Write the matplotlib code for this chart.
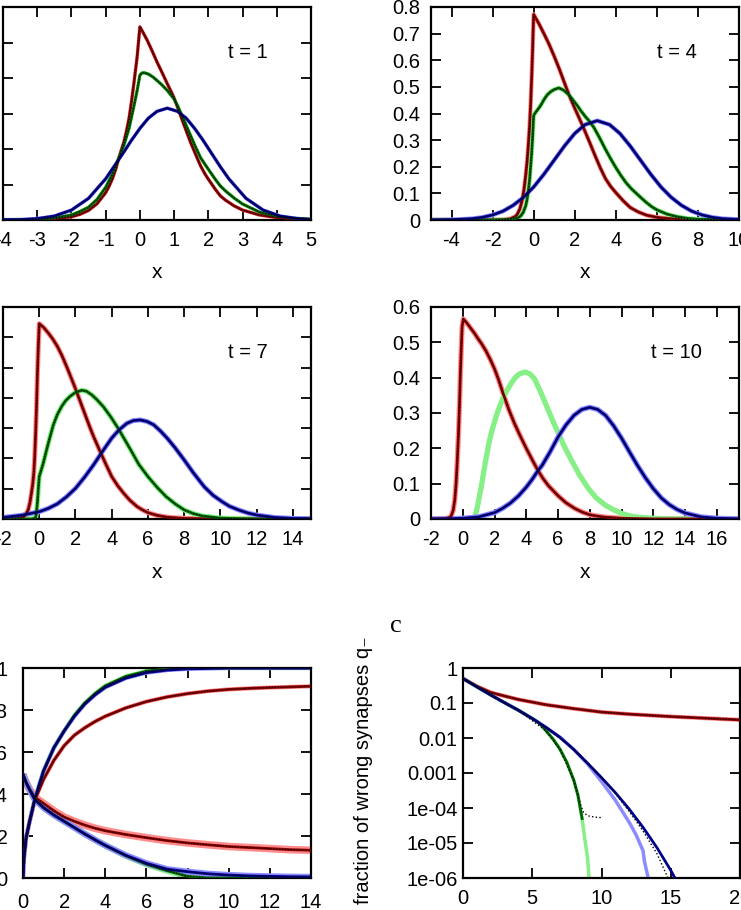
import matplotlib
matplotlib.use("Agg")
import matplotlib.pyplot as plt
from matplotlib.ticker import FixedLocator, FixedFormatter

plt.rcParams['font.family'] = ['Liberation Sans', 'DejaVu Sans']
plt.rcParams['font.size'] = 14.5
plt.rcParams['axes.unicode_minus'] = False
plt.rcParams['axes.linewidth'] = 1.6

# ---- densities, t = 1 ----
T1_RED_X = [-4, -3, -2.5, -2, -1.75, -1.5, -1.25, -1, -0.9, -0.8, -0.7, -0.61, -0.54, -0.47, -0.4, -0.32, -0.25, -0.17, -0.08, 0,
            0.1, 0.21, 0.35, 0.5, 0.65, 0.8, 0.99, 1.1, 1.3, 1.48, 1.65, 1.77, 1.9, 2.0, 2.2, 2.35, 2.5, 2.75, 3.0, 3.5, 4.0, 4.5, 5.0]
T1_RED_Y = [0.0, 0.001, 0.004, 0.009, 0.016, 0.027, 0.046, 0.077, 0.095, 0.117, 0.145, 0.176, 0.198, 0.219, 0.247, 0.285, 0.33, 0.389, 0.46, 0.544,
            0.527, 0.507, 0.478, 0.445, 0.415, 0.384, 0.346, 0.318, 0.265, 0.219, 0.18, 0.153, 0.13, 0.115, 0.087, 0.068, 0.056, 0.04, 0.028, 0.014, 0.007, 0.004, 0.002]
T1_GRN_X = [-4, -3, -2.5, -2, -1.75, -1.5, -1.25, -1, -0.8, -0.61, -0.47, -0.32, -0.17, -0.08, 0, 0.06, 0.12, 0.25, 0.38, 0.5, 0.65, 0.8,
            0.99, 1.1, 1.23, 1.35, 1.48, 1.62, 1.77, 1.9, 2.0, 2.2, 2.35, 2.5, 2.75, 3.0, 3.5, 4.0, 4.5, 5.0]
T1_GRN_Y = [0.0, 0.002, 0.006, 0.014, 0.024, 0.036, 0.058, 0.092, 0.13, 0.176, 0.21, 0.257, 0.323, 0.365, 0.408, 0.414, 0.415, 0.411, 0.403, 0.393, 0.38, 0.365,
            0.342, 0.322, 0.294, 0.267, 0.238, 0.207, 0.176, 0.157, 0.143, 0.115, 0.096, 0.082, 0.062, 0.045, 0.022, 0.011, 0.005, 0.002]
T1_BLU_X = [-4, -3.5, -3, -2.5, -2, -1.5, -1, -0.5, -0.25, 0, 0.25, 0.5, 0.8, 1.1, 1.35, 1.6, 1.85, 2.1, 2.35, 2.6, 3.1, 3.6, 4.1, 4.6, 5.0]
T1_BLU_Y = [0.001, 0.001, 0.004, 0.011, 0.028, 0.061, 0.116, 0.187, 0.224, 0.258, 0.287, 0.306, 0.315, 0.306, 0.287, 0.258, 0.224, 0.187, 0.15, 0.116, 0.061, 0.028, 0.011, 0.004, 0.001]

# ---- densities, t = 4 ----
T4_RED_X = [-5, -2, -1.5, -1.12, -0.9, -0.8, -0.67, -0.55, -0.47, -0.39, -0.32, -0.26, -0.2, -0.15, -0.1, -0.06, -0.03, 0,
            0.25, 0.5, 0.75, 1.0, 1.25, 1.5, 1.72, 2.0, 2.25, 2.45, 2.75, 3.0, 3.25, 3.5, 3.75, 4.0, 4.35, 4.7, 5.1, 5.5, 6.0, 6.5, 7.0, 8.0, 10.0]
T4_RED_Y = [0.0, 0.0, 0.001, 0.005, 0.013, 0.021, 0.042, 0.078, 0.115, 0.166, 0.22, 0.28, 0.35, 0.43, 0.53, 0.62, 0.70, 0.772,
            0.738, 0.70, 0.66, 0.615, 0.567, 0.515, 0.47, 0.42, 0.377, 0.342, 0.287, 0.24, 0.195, 0.155, 0.126, 0.103, 0.073, 0.047, 0.03, 0.018, 0.01, 0.006, 0.003, 0.001, 0.0]
T4_GRN_X = [-5, -2, -1.3, -0.96, -0.75, -0.63, -0.5, -0.39, -0.32, -0.26, -0.2, -0.15, -0.1, -0.06, -0.03, 0,
            0.1, 0.2, 0.34, 0.5, 0.66, 0.83, 1.0, 1.23, 1.45, 1.72, 1.9, 2.12, 2.3, 2.5, 2.7, 2.93, 3.2, 3.5, 3.75, 4.0,
            4.25, 4.5, 4.75, 5.0, 5.25, 5.5, 5.75, 6.0, 6.5, 7.0, 7.5, 8.0, 9.0, 10.0]
T4_GRN_Y = [0.0, 0.0, 0.001, 0.004, 0.009, 0.015, 0.03, 0.053, 0.078, 0.11, 0.15, 0.2, 0.25, 0.30, 0.35, 0.393,
            0.405, 0.415, 0.43, 0.452, 0.47, 0.482, 0.49, 0.496, 0.488, 0.47, 0.452, 0.43, 0.41, 0.39, 0.372, 0.348, 0.31, 0.265, 0.23, 0.197,
            0.167, 0.14, 0.118, 0.1, 0.082, 0.065, 0.05, 0.038, 0.022, 0.012, 0.006, 0.003, 0.001, 0.0]
T4_BLU_X = [-5, -4, -3, -2.5, -2, -1.5, -1, -0.5, 0, 0.5, 1.0, 1.5, 2.0, 2.5, 3.1, 3.7, 4.2, 4.7, 5.2, 5.7, 6.2, 6.7, 7.2, 7.7, 8.2, 8.7, 9.2, 10.0]
T4_BLU_Y = [0.0, 0.001, 0.005, 0.01, 0.019, 0.033, 0.055, 0.085, 0.124, 0.172, 0.225, 0.278, 0.325, 0.358, 0.373, 0.358, 0.325, 0.278, 0.225, 0.172, 0.124, 0.085, 0.055, 0.033, 0.019, 0.01, 0.005, 0.002]

# ---- densities, t = 7 ----
T7_RED_X = [-2, -1.2, -0.89, -0.75, -0.61, -0.52, -0.43, -0.36, -0.3, -0.25, -0.2, -0.15, -0.1, -0.05, 0,
            0.25, 0.5, 0.75, 1.0, 1.25, 1.5, 1.75, 2.0, 2.25, 2.5, 2.75, 3.0, 3.36, 3.7, 4.0, 4.33, 4.66, 5.0, 5.4, 5.7, 6.0, 6.5, 7.06, 8.0, 9.0, 10.0, 15.0]
T7_RED_Y = [0.0, 0.001, 0.006, 0.014, 0.03, 0.052, 0.085, 0.115, 0.151, 0.205, 0.28, 0.37, 0.48, 0.57, 0.645,
            0.632, 0.614, 0.594, 0.57, 0.54, 0.505, 0.468, 0.43, 0.39, 0.35, 0.31, 0.272, 0.223, 0.178, 0.14, 0.11, 0.085, 0.062, 0.041, 0.03, 0.021, 0.012, 0.006, 0.002, 0.001, 0.0, 0.0]
T7_GRN_X = [-2, -0.5, -0.3, -0.24, -0.18, -0.15, -0.1, -0.05, 0, 0.1, 0.22, 0.35, 0.5, 0.65, 0.78, 1.0, 1.24, 1.45, 1.7, 2.0, 2.35, 2.6, 2.9,
            3.2, 3.55, 3.95, 4.35, 4.7, 5.03, 5.5, 6.0, 6.5, 7.0, 7.5, 8.0, 8.5, 9.0, 10.0, 11.0, 12.0, 15.0]
T7_GRN_Y = [0.0, 0.0, 0.001, 0.002, 0.01, 0.024, 0.055, 0.1, 0.14, 0.16, 0.184, 0.215, 0.25, 0.283, 0.311, 0.345, 0.372, 0.39, 0.405, 0.418, 0.425, 0.422, 0.41,
            0.393, 0.37, 0.337, 0.30, 0.264, 0.23, 0.18, 0.14, 0.105, 0.074, 0.05, 0.03, 0.018, 0.01, 0.003, 0.001, 0.0, 0.0]
T7_BLU_X = [-2, -1, 0, 0.5, 1, 1.5, 2, 2.5, 3, 3.5, 4, 4.4, 4.84, 5.2, 5.58, 5.95, 6.32, 6.7, 7.06, 7.5, 8.0, 8.5, 9.1, 9.6, 10.1, 10.5, 11, 11.5, 12, 13, 14, 15]
T7_BLU_Y = [0.005, 0.012, 0.024, 0.035, 0.05, 0.073, 0.101, 0.138, 0.179, 0.224, 0.267, 0.294, 0.316, 0.325, 0.327, 0.322, 0.311, 0.29, 0.267, 0.235, 0.195, 0.153, 0.107, 0.078, 0.057, 0.042, 0.03, 0.02, 0.013, 0.005, 0.002, 0.001]

# ---- densities, t = 10 ----
T10_RED_X = [-2, -1.16, -0.9, -0.74, -0.6, -0.5, -0.42, -0.35, -0.27, -0.2, -0.15, -0.1, -0.04, 0.04,
             0.25, 0.5, 0.75, 0.95, 1.2, 1.47, 1.75, 2.0, 2.25, 2.53, 2.9, 3.26, 3.6, 4.0, 4.37, 4.74, 5.05, 5.4, 5.7, 6.0, 6.5, 7.05, 7.5, 8.0, 8.5, 9.0, 10.0, 11.0, 12.0, 17.4]
T10_RED_Y = [0.0, 0.001, 0.003, 0.007, 0.025, 0.055, 0.1, 0.16, 0.24, 0.33, 0.41, 0.475, 0.545, 0.566,
             0.555, 0.54, 0.525, 0.511, 0.495, 0.475, 0.45, 0.425, 0.395, 0.357, 0.31, 0.27, 0.237, 0.2, 0.168, 0.137, 0.115, 0.094, 0.08, 0.066, 0.046, 0.03, 0.02, 0.012, 0.008, 0.005, 0.002, 0.001, 0.0, 0.0]
T10_GRN_X = [0.6, 0.74, 0.85, 0.95, 1.05, 1.16, 1.28, 1.4, 1.55, 1.68, 1.85, 2.0, 2.21, 2.53, 2.8, 3.05, 3.3, 3.58, 3.95, 4.25, 4.53, 4.9, 5.26, 5.6,
             6.0, 6.4, 6.84, 7.35, 7.9, 8.4, 8.95, 9.5, 10.0, 10.5, 11.05, 12.0, 13.0, 17.4]
T10_GRN_Y = [0.0, 0.003, 0.02, 0.04, 0.065, 0.09, 0.122, 0.155, 0.19, 0.222, 0.252, 0.275, 0.305, 0.342, 0.365, 0.384, 0.4, 0.411, 0.416, 0.41, 0.396, 0.36, 0.322, 0.285,
             0.245, 0.205, 0.167, 0.125, 0.087, 0.06, 0.04, 0.026, 0.016, 0.009, 0.005, 0.002, 0.0, 0.0]
T10_BLU_X = [-2, -1, 0, 1, 2, 2.5, 3, 3.5, 4, 4.37, 4.74, 5.0, 5.5, 6.0, 6.5, 7.0, 7.5, 8.0, 8.5, 9.0, 9.5, 10.0, 10.5, 11.0, 11.5, 12.0, 12.5, 13.0, 13.5, 14.0, 15.0, 16.0, 17.4]
T10_BLU_Y = [0.0, 0.0005, 0.002, 0.006, 0.018, 0.03, 0.045, 0.065, 0.09, 0.112, 0.137, 0.152, 0.19, 0.232, 0.266, 0.293, 0.31, 0.316, 0.31, 0.293, 0.264, 0.229, 0.19, 0.152, 0.117, 0.086, 0.06, 0.041, 0.027, 0.017, 0.006, 0.002, 0.0]

# ---- fractions of correct / wrong synapses vs time ----
E_T = [0, 0.05, 0.15, 0.3, 0.57, 1, 1.5, 2, 2.5, 3, 3.5, 4, 5, 6, 7, 8, 9, 10, 11, 12, 13, 14]
E_BLU_UP = [0.0, 0.1, 0.19, 0.26, 0.374, 0.51, 0.62, 0.70, 0.77, 0.828, 0.872, 0.908, 0.952, 0.978, 0.99, 0.996, 0.998, 1.0, 1.0, 1.0, 1.0, 1.0]
E_GRN_UP = [0.0, 0.1, 0.19, 0.26, 0.374, 0.51, 0.62, 0.70, 0.775, 0.833, 0.878, 0.915, 0.96, 0.985, 0.996, 1.0, 1.0, 1.0, 1.0, 1.0, 1.0, 1.0]
E_RED_UP = [0.0, 0.1, 0.19, 0.26, 0.37, 0.47, 0.56, 0.63, 0.68, 0.715, 0.745, 0.77, 0.81, 0.84, 0.862, 0.878, 0.89, 0.898, 0.903, 0.907, 0.91, 0.913]
E_BLU_DN = [0.494, 0.48, 0.455, 0.425, 0.374, 0.335, 0.30, 0.27, 0.24, 0.21, 0.182, 0.155, 0.108, 0.07, 0.042, 0.03, 0.02, 0.014, 0.01, 0.008, 0.006, 0.005]
E_GRN_DN = [0.494, 0.48, 0.455, 0.425, 0.374, 0.335, 0.30, 0.27, 0.24, 0.21, 0.182, 0.155, 0.106, 0.066, 0.035, 0.008, 0.0, 0.0, 0.0, 0.0, 0.0, 0.0]
E_RED_DN = [0.494, 0.48, 0.455, 0.425, 0.385, 0.355, 0.32, 0.29, 0.27, 0.252, 0.237, 0.225, 0.207, 0.192, 0.178, 0.167, 0.158, 0.15, 0.145, 0.14, 0.135, 0.132]

# ---- fraction of wrong synapses (log scale) ----
F_RED_X = [0, 1, 2, 3, 4, 5, 6, 8, 10, 12, 15, 20]
F_RED_Y = [0.5, 0.30, 0.20, 0.158, 0.126, 0.106, 0.089, 0.069, 0.055, 0.048, 0.041, 0.033]
F_BLU_X = [0, 1, 2, 3, 4, 5, 6, 7, 8, 9, 10, 11, 12, 13, 14, 15, 15.3]
F_BLU_Y = [0.5, 0.29, 0.17, 0.102, 0.062, 0.036, 0.020, 0.0105, 0.0047, 0.0019, 7.4e-4, 2.75e-4, 9.3e-5, 2.8e-5, 7.4e-6, 1.66e-6, 1.0e-6]
F_BLU_SIM_X = [0, 1, 2, 3, 4, 5, 6, 7, 8, 9, 10, 11, 12, 12.5, 13, 13.1, 13.4]
F_BLU_SIM_Y = [0.5, 0.29, 0.17, 0.102, 0.062, 0.036, 0.020, 0.0105, 0.0047, 0.0018, 5.7e-4, 1.66e-4, 3.9e-5, 1.7e-5, 6e-6, 3e-6, 9e-7]
F_BLU_DOT_X = [0, 2, 4, 6, 8, 10, 11, 12, 13, 14, 14.8, 15.0]
F_BLU_DOT_Y = [0.5, 0.17, 0.062, 0.020, 0.0047, 7.2e-4, 2.6e-4, 8e-5, 2.2e-5, 5e-6, 1e-6, 7e-7]
F_GRN_X = [0, 1, 2, 3, 4, 5, 5.5, 6, 6.5, 7, 7.5, 8, 8.3, 8.6]
F_GRN_Y = [0.5, 0.29, 0.17, 0.102, 0.062, 0.036, 0.027, 0.016, 0.0093, 0.0048, 0.002, 6.2e-4, 2.3e-4, 5e-5]
F_GRN_SIM_X = [0, 1, 2, 3, 4, 5, 5.5, 6, 6.5, 7, 7.5, 8, 8.3, 8.6, 8.8, 9.0, 9.12]
F_GRN_SIM_Y = [0.5, 0.29, 0.17, 0.102, 0.062, 0.036, 0.027, 0.016, 0.0093, 0.0048, 0.002, 6.2e-4, 2.3e-4, 5e-5, 1.26e-5, 3.5e-6, 8e-7]
F_GRN_DOT_X = [0, 2, 4, 6, 7, 8, 8.3, 8.5, 8.7, 9.0, 9.5, 10.0]
F_GRN_DOT_Y = [0.5, 0.17, 0.062, 0.016, 0.0048, 6.2e-4, 2.3e-4, 1.2e-4, 7.5e-5, 6e-5, 5.5e-5, 5.3e-5]

DARK_RED, DARK_GRN, DARK_BLU = '#8b0000', '#006400', '#00008b'
LIGHT_RED, LIGHT_GRN, LIGHT_BLU = '#ff8c8c', '#86f086', '#8c8cff'

W, H = 741, 910
fig = plt.figure(figsize=(W / 100, H / 100), dpi=100)


def axes_px(left, top, right, bottom):
    return fig.add_axes([left / W, 1 - bottom / H, (right - left) / W, (bottom - top) / H])


def style(ax, xpad=8, ypad=8):
    ax.tick_params(direction='in', length=7, width=1.3, top=True, right=True,
                   labelsize=14.5, color='black')
    ax.tick_params(axis='x', pad=xpad)
    ax.tick_params(axis='y', pad=ypad)


def curve(ax, x, y, dark, light, lw_light=3.0, theory=True):
    ax.plot(x, y, color=light, lw=lw_light, solid_capstyle='butt', zorder=2)
    if theory:
        ax.plot(x, y, color=dark, lw=2.0, zorder=3)
        ax.plot(x, y, color='black', lw=0.8, ls=':', zorder=4)


def density_panel(box, xlim, ylim, xticks, yticks, series, label, label_px, xlabel_px, lw_light):
    ax = axes_px(*box)
    for x, y, dark, light, theory in series:
        curve(ax, x, y, dark, light, lw_light=lw_light, theory=theory)
    ax.set_xlim(*xlim)
    ax.set_ylim(*ylim)
    ax.set_xticks(xticks)
    ax.set_xticklabels(['%g' % v for v in xticks])
    ax.set_yticks(yticks)
    ax.set_yticklabels(['%g' % round(v, 1) for v in yticks])
    style(ax)
    fig.text(label_px[0] / W, 1 - label_px[1] / H, label, ha='left', va='center', fontsize=14.5)
    fig.text(xlabel_px[0] / W, 1 - xlabel_px[1] / H, 'x', ha='center', va='center', fontsize=15)
    return ax


yt6 = [i / 10 for i in range(7)]
yt7 = [i / 10 for i in range(8)]
yt8 = [i / 10 for i in range(9)]

density_panel((3, 7, 311, 220), (-4, 5), (0, 0.6), list(range(-4, 6)), yt6,
              [(T1_RED_X, T1_RED_Y, DARK_RED, LIGHT_RED, True),
               (T1_GRN_X, T1_GRN_Y, DARK_GRN, LIGHT_GRN, True),
               (T1_BLU_X, T1_BLU_Y, DARK_BLU, LIGHT_BLU, True)],
              't = 1', (228, 52), (157, 273), 2.6)

density_panel((431, 7, 739, 220), (-5, 10), (0, 0.8), list(range(-4, 11, 2)), yt8,
              [(T4_RED_X, T4_RED_Y, DARK_RED, LIGHT_RED, True),
               (T4_GRN_X, T4_GRN_Y, DARK_GRN, LIGHT_GRN, True),
               (T4_BLU_X, T4_BLU_Y, DARK_BLU, LIGHT_BLU, True)],
              't = 4', (657, 52), (585, 273), 3.2)

density_panel((3, 307, 311, 519), (-2, 15), (0, 0.7), list(range(-2, 15, 2)), yt7,
              [(T7_RED_X, T7_RED_Y, DARK_RED, LIGHT_RED, True),
               (T7_GRN_X, T7_GRN_Y, DARK_GRN, LIGHT_GRN, True),
               (T7_BLU_X, T7_BLU_Y, DARK_BLU, LIGHT_BLU, True)],
              't = 7', (228, 352), (157, 573), 3.6)

density_panel((431, 307, 739, 519), (-2, 17.4), (0, 0.6), list(range(-2, 17, 2)), yt6,
              [(T10_RED_X, T10_RED_Y, DARK_RED, LIGHT_RED, True),
               (T10_GRN_X, T10_GRN_Y, DARK_GRN, LIGHT_GRN, False),
               (T10_BLU_X, T10_BLU_Y, DARK_BLU, LIGHT_BLU, True)],
              't = 10', (651, 352), (585, 573), 3.8)

# bottom left: fractions vs time
axe = axes_px(23, 668, 311, 878)
for y, dark, light, lwl in [(E_GRN_UP, DARK_GRN, LIGHT_GRN, 3.0), (E_RED_UP, DARK_RED, LIGHT_RED, 3.0),
                            (E_BLU_UP, DARK_BLU, LIGHT_BLU, 3.0), (E_RED_DN, DARK_RED, LIGHT_RED, 5.5),
                            (E_GRN_DN, DARK_GRN, LIGHT_GRN, 4.5), (E_BLU_DN, DARK_BLU, LIGHT_BLU, 4.5)]:
    curve(axe, E_T, y, dark, light, lw_light=lwl)
axe.set_xlim(0, 14)
axe.set_ylim(0, 1)
axe.set_xticks(list(range(0, 15, 2)))
axe.set_xticklabels([str(v) for v in range(0, 15, 2)])
axe.set_yticks([0, 0.2, 0.4, 0.6, 0.8, 1.0])
axe.set_yticklabels(['0', '0.2', '0.4', '0.6', '0.8', '1'])
style(axe, xpad=11, ypad=11)

# bottom right: wrong synapses, log scale
axf = axes_px(463, 668, 740, 878)
axf.set_yscale('log')
axf.plot(F_RED_X, F_RED_Y, color=LIGHT_RED, lw=3, zorder=2)
axf.plot(F_GRN_SIM_X, F_GRN_SIM_Y, color=LIGHT_GRN, lw=2.5, zorder=2)
axf.plot(F_BLU_SIM_X, F_BLU_SIM_Y, color=LIGHT_BLU, lw=2.5, zorder=2)
axf.plot(F_RED_X, F_RED_Y, color=DARK_RED, lw=2.0, zorder=3)
axf.plot(F_GRN_X, F_GRN_Y, color=DARK_GRN, lw=2.0, zorder=3)
axf.plot(F_BLU_X, F_BLU_Y, color=DARK_BLU, lw=2.0, zorder=3)
axf.plot(F_RED_X, F_RED_Y, color='black', lw=0.8, ls=':', zorder=4)
axf.plot(F_GRN_DOT_X, F_GRN_DOT_Y, color='black', lw=1.0, ls=':', zorder=4)
axf.plot(F_BLU_DOT_X, F_BLU_DOT_Y, color='black', lw=1.0, ls=':', zorder=4)
axf.set_xlim(0, 20)
axf.set_ylim(1e-6, 1)
axf.set_xticks([0, 5, 10, 15, 20])
axf.set_xticklabels(['0', '5', '10', '15', '20'])
f_ticks = [1, 0.1, 0.01, 0.001, 1e-4, 1e-5, 1e-6]
axf.yaxis.set_major_locator(FixedLocator(f_ticks))
axf.yaxis.set_major_formatter(FixedFormatter(['1', '0.1', '0.01', '0.001', '1e-04', '1e-05', '1e-06']))
axf.yaxis.set_minor_locator(FixedLocator([]))
style(axf, xpad=8, ypad=4)

fig.text(373 / W, 1 - 636 / H, 'fraction of wrong synapses q\u208b', rotation=90,
         ha='right', va='top', fontsize=14.5)
fig.text(396 / W, 1 - 626 / H, 'c', family='Liberation Serif', fontsize=19,
         ha='center', va='center')

fig.savefig('out.png', dpi=100)
